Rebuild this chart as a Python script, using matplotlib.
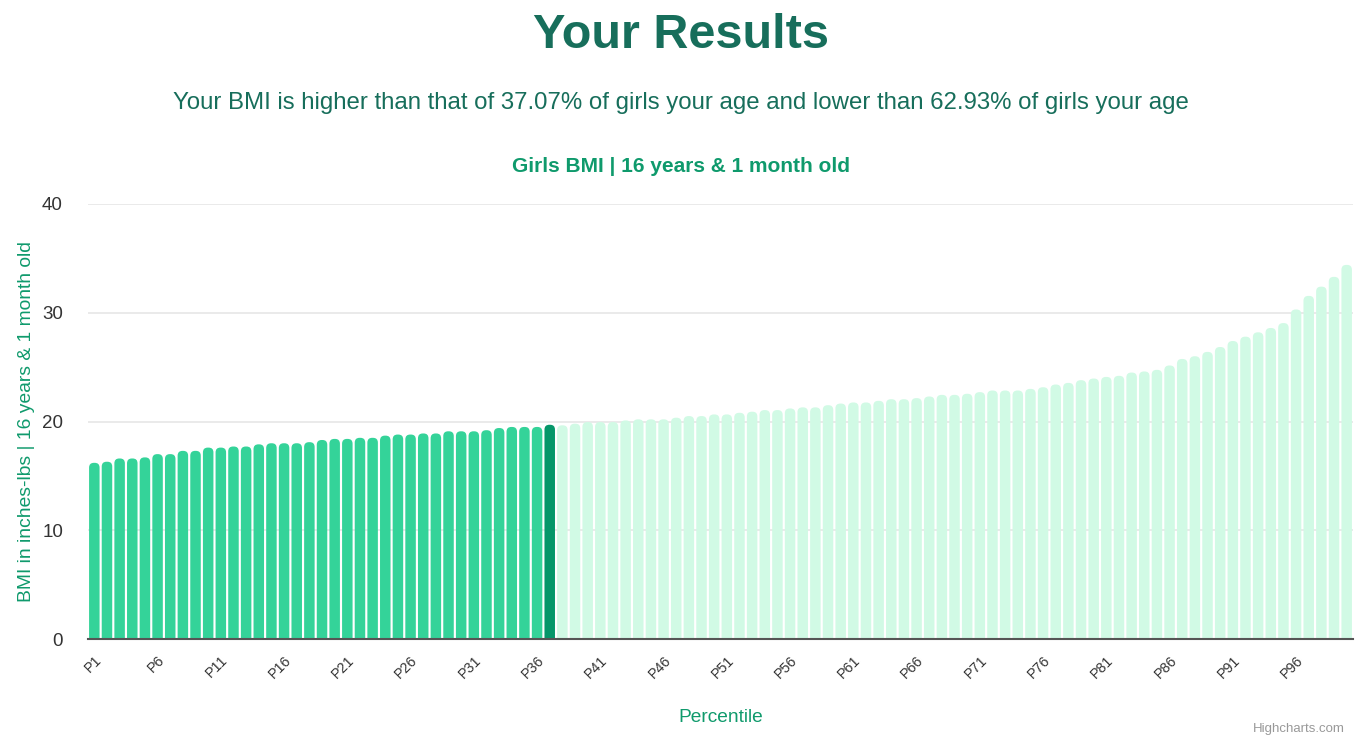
import matplotlib.pyplot as plt
from matplotlib.patches import FancyBboxPatch

plt.rcParams['font.family'] = ['Liberation Sans', 'DejaVu Sans']

# BMI value per percentile P1..P100
bmi_values = [
    16.2, 16.3, 16.6, 16.6, 16.7, 17.0, 17.0, 17.3, 17.3, 17.6,
    17.6, 17.7, 17.7, 17.9, 18.0, 18.0, 18.0, 18.1, 18.3, 18.4,
    18.4, 18.5, 18.5, 18.7, 18.8, 18.8, 18.9, 18.9, 19.1, 19.1,
    19.1, 19.2, 19.4, 19.5, 19.5, 19.5, 19.7, 19.65, 19.8, 19.95,
    19.95, 19.95, 20.1, 20.2, 20.2, 20.2, 20.35, 20.5, 20.5, 20.65,
    20.65, 20.8, 20.9, 21.05, 21.05, 21.2, 21.3, 21.3, 21.5, 21.65,
    21.75, 21.75, 21.9, 22.05, 22.05, 22.15, 22.3, 22.45, 22.45, 22.55,
    22.7, 22.85, 22.85, 22.85, 23.0, 23.15, 23.4, 23.55, 23.8, 23.95,
    24.1, 24.2, 24.5, 24.6, 24.75, 25.15, 25.75, 26.0, 26.4, 26.85,
    27.4, 27.8, 28.2, 28.6, 29.05, 30.3, 31.55, 32.4, 33.3, 34.4,
]
percentiles = [f"P{i}" for i in range(1, 101)]
user_percentile = 37  # the user's bar

c_below = '#34d399'
c_user = '#059669'
c_above = '#d1fae5'
c_title = '#176e5b'
c_green = '#0f9a6c'

fig = plt.figure(figsize=(13.62, 7.42), dpi=100)
ax = fig.add_axes([88 / 1362, 103 / 742, 1265 / 1362, 435 / 742])

n = len(bmi_values)
ax.set_xlim(-0.5, n - 0.5)
ax.set_ylim(0, 40)

# pixel scale -> aspect for rounded corners
px_x = 1265 / n
px_y = 435 / 40
aspect = px_x / px_y
width = 0.83
r = 0.38

for i, v in enumerate(bmi_values):
    p = i + 1
    if p < user_percentile:
        col = c_below
    elif p == user_percentile:
        col = c_user
    else:
        col = c_above
    patch = FancyBboxPatch((i - width / 2, -2), width, v + 2,
                           boxstyle=f"round,pad=0,rounding_size={r}",
                           mutation_aspect=aspect,
                           facecolor=col, edgecolor='none', zorder=3)
    ax.add_patch(patch)

ax.set_yticks([0, 10, 20, 30, 40])
ax.yaxis.grid(True, color='#e6e6e6', lw=1.2, zorder=0)
ax.set_axisbelow(True)
for s in ['top', 'right', 'left']:
    ax.spines[s].set_visible(False)
ax.spines['bottom'].set_color('#555555')
ax.spines['bottom'].set_linewidth(1.5)
ax.spines['bottom'].set_zorder(5)
ax.tick_params(axis='y', length=0, labelsize=13.5, labelcolor='#333333', pad=18)

tick_pos = list(range(0, n, 5))
ax.set_xticks(tick_pos)
ax.set_xticklabels([percentiles[i] for i in tick_pos], rotation=45,
                   ha='right', rotation_mode='anchor', fontsize=10.3,
                   color='#333333')
ax.tick_params(axis='x', length=0, pad=10)

ax.set_ylabel('BMI in inches-lbs | 16 years & 1 month old', color=c_green,
              fontsize=13.9, labelpad=5)
ax.set_xlabel('Percentile', color=c_green, fontsize=13.8, labelpad=20)

fig.text(0.5, 1 - 35 / 742, 'Your Results', ha='center', va='center',
         fontsize=35, fontweight='bold', color=c_title)
fig.text(0.5, 1 - 103 / 742,
         'Your BMI is higher than that of 37.07% of girls your age and lower than 62.93% of girls your age',
         ha='center', va='center', fontsize=17.25, color=c_title)
fig.text(681 / 1362, 1 - 166 / 742, 'Girls BMI | 16 years & 1 month old',
         ha='center', va='center', fontsize=15, fontweight='bold', color=c_green)
fig.text(1345 / 1362, 1 - 729 / 742, 'Highcharts.com', ha='right', va='center',
         fontsize=9.5, color='#999999')

plt.savefig('out.png', dpi=100)
